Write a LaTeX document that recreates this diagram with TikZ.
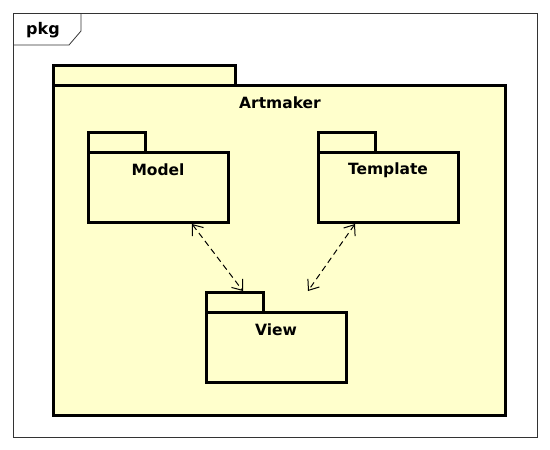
\documentclass[tikz,border=0pt]{standalone}
\usepackage{fontspec}
\setmainfont{DejaVu Sans}
\usetikzlibrary{arrows.meta}
\definecolor{pkgfill}{HTML}{FFFFCC}
\begin{document}
\begin{tikzpicture}[x=1pt,y=-1pt,
  pkgline/.style={draw=black,line width=3pt,fill=pkgfill},
  lbl/.style={font=\bfseries\fontsize{15.5}{18}\selectfont,inner sep=0pt},
  dep/.style={draw=black,line width=1pt,dash pattern=on 6pt off 4pt,
    {Straight Barb[length=9pt,width=14pt]}-{Straight Barb[length=9pt,width=14pt]}}]
\useasboundingbox[fill=white] (0,0) rectangle (550,450);
% frame
\draw[line width=0.8pt,draw=black!80] (13,13) rectangle (537,437);
\draw[line width=0.8pt,draw=black!80] (13,45) -- (69,45) -- (81,31) -- (81,13);
\node[lbl,font=\bfseries\fontsize{16}{18}\selectfont] (pkg) at (43,30) {pkg};
% Artmaker
\draw[pkgline] (53,65) rectangle (235,85);
\draw[pkgline] (53,85) rectangle (505,415);
\node[lbl] (art) at (280,103) {Artmaker};
% Model
\draw[pkgline] (88,132) rectangle (145,152);
\draw[pkgline] (88,152) rectangle (228,222);
\node[lbl] (modell) at (158,170) {Model};
% Template
\draw[pkgline] (318,132) rectangle (375,152);
\draw[pkgline] (318,152) rectangle (458,222);
\node[lbl] (templ) at (388,170) {Template};
% View
\draw[pkgline] (206,292) rectangle (263,312);
\draw[pkgline] (206,312) rectangle (346,382);
\node[lbl] (viewl) at (276,330) {View};
% dependencies
\coordinate (m1) at (192,224);
\coordinate (v1) at (243,291);
\coordinate (t1) at (355,224);
\coordinate (v2) at (308,291);
\draw[dep] (m1) -- (v1);
\draw[dep] (t1) -- (v2);
\end{tikzpicture}
\end{document}
